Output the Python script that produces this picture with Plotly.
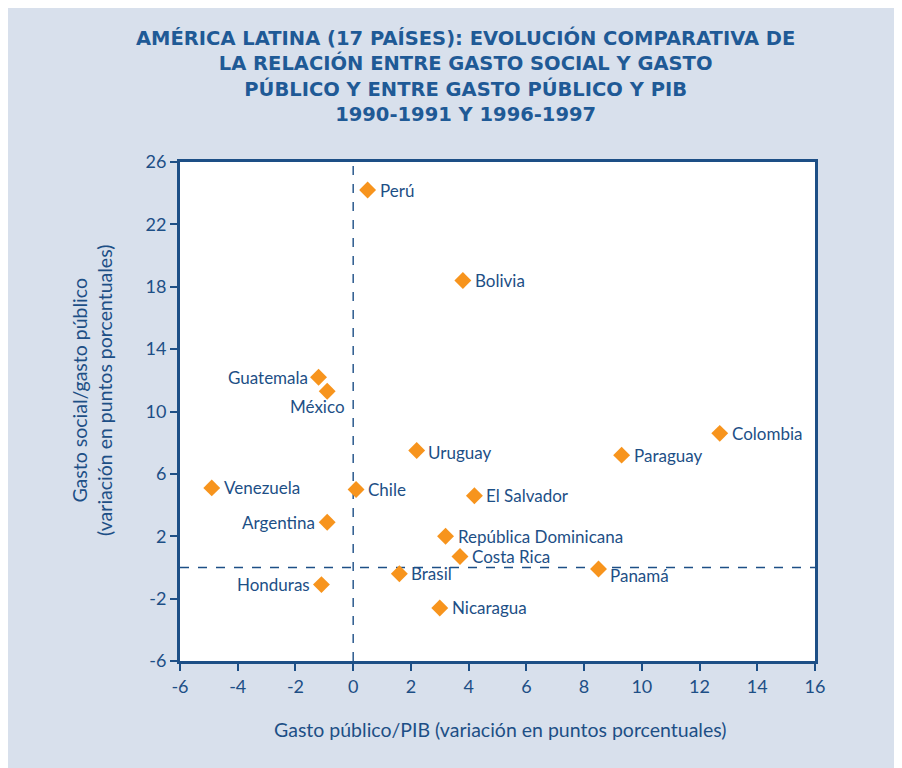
import plotly.graph_objects as go

countries = ["Perú", "Bolivia", "Guatemala", "México", "Colombia", "Uruguay", "Paraguay",
             "Venezuela", "Chile", "El Salvador", "Argentina", "República Dominicana",
             "Costa Rica", "Brasil", "Panamá", "Honduras", "Nicaragua"]
gasto_pib = [0.5, 3.8, -1.2, -0.9, 12.7, 2.2, 9.3, -4.9, 0.1, 4.2, -0.9, 3.2, 3.7, 1.6, 8.5, -1.1, 3.0]
gasto_social = [24.2, 18.4, 12.2, 11.3, 8.6, 7.5, 7.2, 5.1, 5.0, 4.6, 2.9, 2.0, 0.7, -0.4, -0.1, -1.1, -2.6]

x_ticks = list(range(-6, 17, 2))
y_ticks = list(range(-6, 27, 4))

title_lines = ["AMÉRICA LATINA (17 PAÍSES): EVOLUCIÓN COMPARATIVA DE",
               "LA RELACIÓN ENTRE GASTO SOCIAL Y GASTO",
               "PÚBLICO Y ENTRE GASTO PÚBLICO Y PIB",
               "1990-1991 Y 1996-1997"]
x_title = "Gasto público/PIB (variación en puntos porcentuales)"
y_title = "Gasto social/gasto público<br>(variación en puntos porcentuales)"

# label placement styles (anchor, x shift px, y shift px)
label_style = {
    "Guatemala": ("right", -9, 0),
    "México": ("right", 20, -15),
    "Argentina": ("right", -10, 0),
    "Honduras": ("right", -9, 0),
    "Panamá": ("left", 9, -6),
    "Uruguay": ("left", 9, -2),
}
default_style = ("left", 10, 0)

BLUE = "#1d4f86"
TITLE_BLUE = "#1f5a96"
ORANGE = "#f7941d"
BG = "#d8e0ec"
FONT = "Lato, Open Sans, sans-serif"

# plot-area geometry (page pixels of the reference)
PL, PR, PT, PB = 180, 815, 161, 660


def px_x(p):
    return (p - PL) / (PR - PL)


def px_y(p):
    return (PB - p) / (PB - PT)


fig = go.Figure()
fig.add_trace(go.Scatter(
    x=gasto_pib, y=gasto_social, mode="markers",
    marker=dict(symbol="diamond", size=13, color=ORANGE),
    cliponaxis=False, showlegend=False, hoverinfo="skip"))

fig.add_shape(type="line", x0=0, x1=0, y0=-6, y1=26, xref="x", yref="y",
              line=dict(color=BLUE, width=1.4, dash="dash"), layer="below")
fig.add_shape(type="line", x0=-6, x1=16, y0=0, y1=0, xref="x", yref="y",
              line=dict(color=BLUE, width=1.4, dash="dash"), layer="below")

annotations = []
for c, xv, yv in zip(countries, gasto_pib, gasto_social):
    anchor, dx, dy = label_style.get(c, default_style)
    annotations.append(dict(text=c, x=xv, y=yv, xref="x", yref="y", showarrow=False,
                            xanchor=anchor, yanchor="middle", xshift=dx, yshift=dy,
                            font=dict(family=FONT, size=17, color=BLUE)))

annotations.append(dict(text="<b>" + "<br>".join(title_lines) + "</b>", xref="paper", yref="paper",
                        x=px_x(465), y=px_y(74.5), xanchor="center", yanchor="middle",
                        showarrow=False, align="center",
                        font=dict(family="DejaVu Sans, sans-serif", size=19.5, color=TITLE_BLUE)))

annotations.append(dict(text=x_title, xref="paper", yref="paper", x=px_x(500), y=px_y(728),
                        xanchor="center", yanchor="middle", showarrow=False,
                        font=dict(family=FONT, size=19.5, color=BLUE)))
annotations.append(dict(text=y_title, xref="paper", yref="paper", x=px_x(92), y=px_y(390),
                        xanchor="center", yanchor="middle", showarrow=False, textangle=-90,
                        font=dict(family=FONT, size=19.5, color=BLUE)))

axis_common = dict(showgrid=False, zeroline=False, showline=True, linecolor=BLUE, linewidth=3,
                   mirror=True, ticks="outside", ticklen=7, tickwidth=2, tickcolor=BLUE,
                   tickfont=dict(family=FONT, size=18, color=BLUE))

fig.update_xaxes(range=[-6, 16], tickvals=x_ticks, ticktext=[str(v) for v in x_ticks], **axis_common)
fig.update_yaxes(range=[-6, 26], tickvals=y_ticks, ticktext=[str(v) for v in y_ticks], **axis_common)

fig.update_layout(
    width=902, height=768,
    margin=dict(l=172, r=95, t=154, b=115),
    paper_bgcolor=BG, plot_bgcolor="white",
    font=dict(family=FONT, color=BLUE),
    annotations=annotations,
)

fig.write_html("out.html")
